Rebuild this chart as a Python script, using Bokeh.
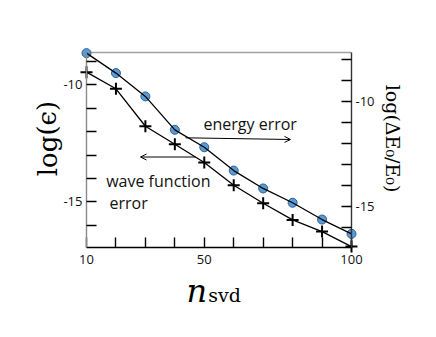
from bokeh.plotting import figure
from bokeh.models import Range1d, LinearAxis, FixedTicker, Label, Arrow, OpenHead
from bokeh.embed import file_html
from bokeh.resources import INLINE

n_svd = [10, 20, 30, 40, 50, 60, 70, 80, 90, 100]
wave_err = [-9.46, -10.17, -11.77, -12.54, -13.32, -14.29, -15.06, -15.77, -16.27, -16.91]
energy_err = [-7.70, -8.65, -9.76, -11.35, -12.18, -13.29, -14.14, -14.82, -15.62, -16.30]
x_ticks = [10, 20, 30, 40, 50, 60, 70, 80, 90, 100]
x_tick_labels = {10: "10", 50: "50", 100: "100"}
left_ticks = [-16, -15, -14, -13, -12, -11, -10, -9]
right_ticks = [-16, -15, -14, -13, -12, -11, -10, -9, -8]
y_tick_labels = {-10: "-10", -15: "-15"}

# axis extents
X_LO, X_HI = 10, 100
YL_LO, YL_HI = -16.95, -8.62
YR_LO, YR_HI = -16.95, -7.67

# canvas and the plotting box inside it (px)
W, H = 436, 337
BX0, BX1, BY0, BY1 = 86, 351, 52, 247   # left, right, top, bottom

def rng(lo, hi, p0, p1, total, flip=False):
    per = (hi - lo) / (p1 - p0)
    if flip:   # vertical: p0 is top (hi), p1 is bottom (lo)
        return Range1d(lo - (total - p1) * per, hi + p0 * per)
    return Range1d(lo - p0 * per, hi + (total - p1) * per)

xr = rng(X_LO, X_HI, BX0, BX1, W)
yl = rng(YL_LO, YL_HI, BY0, BY1, H, flip=True)
yr = rng(YR_LO, YR_HI, BY0, BY1, H, flip=True)

def X(px):
    return xr.start + px * (xr.end - xr.start) / W
def Y(py):
    return yl.end - py * (yl.end - yl.start) / H

p = figure(width=W, height=H, output_backend="svg", toolbar_location=None,
           x_range=xr, y_range=yl, min_border=0,
           x_axis_location=None, y_axis_location=None)
p.extra_y_ranges = {"right": yr}
p.grid.visible = False
p.outline_line_color = None
p.background_fill_color = "white"
p.border_fill_color = "white"

def style(ax, ticks, labels):
    ax.ticker = FixedTicker(ticks=ticks)
    ax.major_label_overrides = {t: labels.get(t, "") for t in ticks}
    ax.major_tick_in = 10
    ax.major_tick_out = 0
    ax.minor_tick_line_color = None
    ax.major_tick_line_color = "black"
    ax.major_tick_line_width = 1.4
    ax.major_label_text_font = "Open Sans"
    ax.major_label_text_font_size = "13px"
    ax.major_label_text_color = "#111111"

# top border line
p.line([X_LO, X_HI], [YL_HI, YL_HI], line_color="#a0a0a0", line_width=1.3)

xa = LinearAxis(fixed_location=YL_LO, bounds=(X_LO, X_HI))
style(xa, x_ticks, x_tick_labels)
xa.axis_line_color = "black"
xa.axis_line_width = 1.4
xa.major_label_standoff = 7
p.add_layout(xa, "below")

la = LinearAxis(fixed_location=X_LO, bounds=(YL_LO, YL_HI))
style(la, left_ticks, y_tick_labels)
la.axis_line_color = "#8a8a8a"
la.axis_line_width = 1.4
la.major_label_standoff = 4
p.add_layout(la, "left")

ra = LinearAxis(y_range_name="right", fixed_location=X_HI, bounds=(YR_LO, YR_HI))
style(ra, right_ticks, y_tick_labels)
ra.axis_line_color = "#333333"
ra.axis_line_width = 1.4
ra.major_label_standoff = 4
p.add_layout(ra, "right")

p.scatter(n_svd, wave_err, marker="cross", size=12, line_color="black", line_width=2)
p.line(n_svd, wave_err, line_color="black", line_width=1.3)
p.scatter(n_svd, energy_err, marker="circle", size=9, fill_color="#5b9bd5",
          line_color="#2f5f8f", line_width=1, y_range_name="right")
p.line(n_svd, energy_err, line_color="black", line_width=1.3, y_range_name="right")

# annotations
ann = dict(text_font="Open Sans", text_font_size="16px", text_color="#111111",
           text_baseline="middle", text_align="left")
p.add_layout(Label(x=X(203), y=Y(123), text="energy error", **ann))
p.add_layout(Arrow(end=OpenHead(size=6, line_width=1), x_start=X(185), y_start=Y(137.3),
                   x_end=X(290), y_end=Y(139), line_width=1))
p.add_layout(Arrow(end=OpenHead(size=6, line_width=1), x_start=X(195), y_start=Y(156.5),
                   x_end=X(140), y_end=Y(156.5), line_width=1))
p.add_layout(Label(x=X(105.7), y=Y(180), text="wave function", **ann))
p.add_layout(Label(x=X(109), y=Y(202), text="error", **ann))

# axis titles
p.add_layout(Label(x=X(47), y=Y(138), text="log(ϵ)", text_color="black",
                   text_font="DejaVu Serif", text_font_size="26px", angle=1.5708,
                   text_align="center", text_baseline="middle"))
p.add_layout(Label(x=X(392.5), y=Y(138), text="log(ΔE₀/E₀)", text_color="black",
                   text_font="DejaVu Serif", text_font_size="19px", angle=-1.5708,
                   text_align="center", text_baseline="middle"))
p.add_layout(Label(x=X(206.7), y=Y(290), text="n", text_color="black",
                   text_font="DejaVu Serif", text_font_style="italic", text_font_size="32px",
                   text_align="right", text_baseline="alphabetic"))
p.add_layout(Label(x=X(207.7), y=Y(294), text="svd", text_color="black",
                   text_font="DejaVu Serif", text_font_size="19px",
                   text_align="left", text_baseline="alphabetic"))

open("out.html", "w").write(file_html(p, INLINE))
